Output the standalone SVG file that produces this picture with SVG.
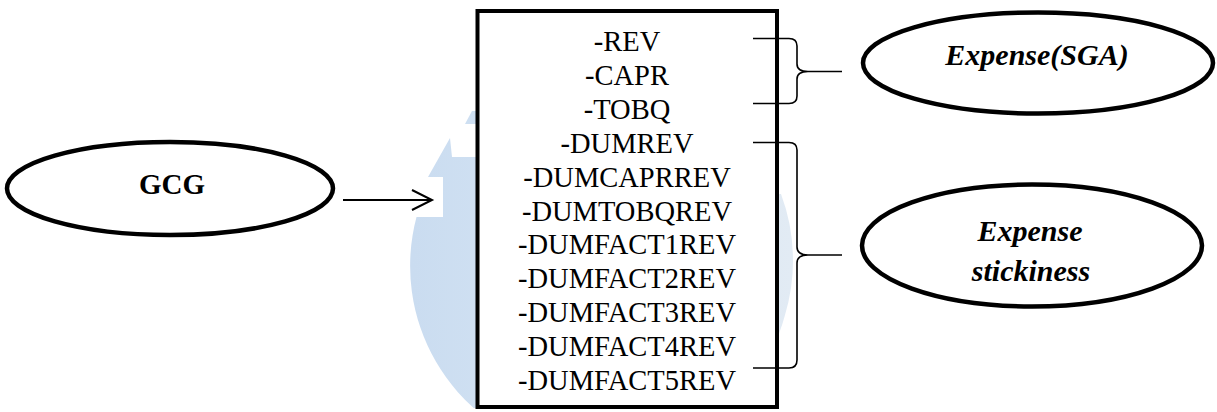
<svg xmlns="http://www.w3.org/2000/svg" width="1217" height="412" viewBox="0 0 1217 412">
  <defs>
    <style>
      .node { fill: #ffffff; stroke: #000000; stroke-width: 4.5; }
      .box { fill: #ffffff; stroke: #000000; stroke-width: 4; }
      .conn { fill: none; stroke: #000000; stroke-width: 2; }
      .brace { fill: none; stroke: #000000; stroke-width: 1.6; stroke-linejoin: round; }
    </style>
    <linearGradient id="emblem-fill" gradientUnits="userSpaceOnUse" x1="413" y1="0" x2="792" y2="0">
      <stop offset="0" stop-color="#cadcf0"/>
      <stop offset="0.2" stop-color="#cfe0f2"/>
      <stop offset="1" stop-color="#e2ebf4"/>
    </linearGradient>
    <marker id="open-arrow" viewBox="0 0 24 24" refX="21" refY="12" markerWidth="24" markerHeight="24" markerUnits="userSpaceOnUse" orient="auto">
      <path d="M 1 2 L 21 12 L 1 22" fill="none" stroke="#000000" stroke-width="2"/>
    </marker>
    <clipPath id="page-clip">
      <rect x="0" y="0" width="1217" height="408"/>
    </clipPath>
  </defs>

  <rect width="1217" height="412" fill="#ffffff"/>

  <!-- faint background emblem, mostly hidden behind the list box -->
  <g id="emblem" clip-path="url(#page-clip)" fill="url(#emblem-fill)">
    <path d="M 416.5 217 L 443 217 L 443 177 L 428 177 L 450 138 L 452 157 L 700 157 L 700 194 L 781 194 A 190 190 0 0 1 785 315 A 190 190 0 0 1 416.5 217 Z"/>
    <path d="M 465 124 L 472 111 L 480 111 L 480 124 Z"/>
  </g>

  <!-- GCG -->
  <g id="gcg">
    <ellipse class="node" cx="170" cy="188.5" rx="163" ry="46.5"/>
    <text x="172" y="194" font-family="Liberation Serif, serif" font-size="29" font-weight="bold" text-anchor="middle">GCG</text>
  </g>

  <!-- variable list -->
  <g id="variables">
    <rect class="box" x="477.5" y="11" width="299.5" height="396"/>
    <g font-family="Liberation Serif, serif" font-size="28.5" text-anchor="middle">
      <text x="627" y="51">-REV</text>
      <text x="627" y="84.9">-CAPR</text>
      <text x="627" y="118.8">-TOBQ</text>
      <text x="627" y="152.7">-DUMREV</text>
      <text x="627" y="186.6">-DUMCAPRREV</text>
      <text x="627" y="220.5">-DUMTOBQREV</text>
      <text x="627" y="254.4">-DUMFACT1REV</text>
      <text x="627" y="288.3">-DUMFACT2REV</text>
      <text x="627" y="322.2">-DUMFACT3REV</text>
      <text x="627" y="356.1">-DUMFACT4REV</text>
      <text x="627" y="390">-DUMFACT5REV</text>
    </g>
  </g>

  <!-- Expense(SGA) -->
  <g id="expense-sga">
    <ellipse class="node" cx="1038" cy="63" rx="175" ry="50.5"/>
    <text x="1037" y="65" font-family="Liberation Serif, serif" font-size="30" font-weight="bold" font-style="italic" text-anchor="middle">Expense(SGA)</text>
  </g>

  <!-- Expense stickiness -->
  <g id="expense-stickiness">
    <ellipse class="node" cx="1032" cy="245.5" rx="170" ry="61"/>
    <text x="1030" y="240.5" font-family="Liberation Serif, serif" font-size="30" font-weight="bold" font-style="italic" text-anchor="middle">Expense</text>
    <text x="1031" y="280.5" font-family="Liberation Serif, serif" font-size="30" font-weight="bold" font-style="italic" text-anchor="middle">stickiness</text>
  </g>

  <!-- connectors -->
  <g id="connectors">
    <line class="conn" x1="343" y1="200" x2="432" y2="200" marker-end="url(#open-arrow)"/>
    <path class="brace" d="M 753 38.5 L 789 38.5 Q 797 38.5 797 46 L 797 64 Q 797 71.5 808 71.5 L 842 71.5 M 808 71.5 Q 797 71.5 797 79 L 797 96 Q 797 103.5 789 103.5 L 753 103.5"/>
    <path class="brace" d="M 753 142.5 L 789 142.5 Q 797 142.5 797 150 L 797 247 Q 797 255 808 255 L 842 255 M 808 255 Q 797 255 797 263 L 797 360 Q 797 368 789 368 L 753 368"/>
  </g>
</svg>
